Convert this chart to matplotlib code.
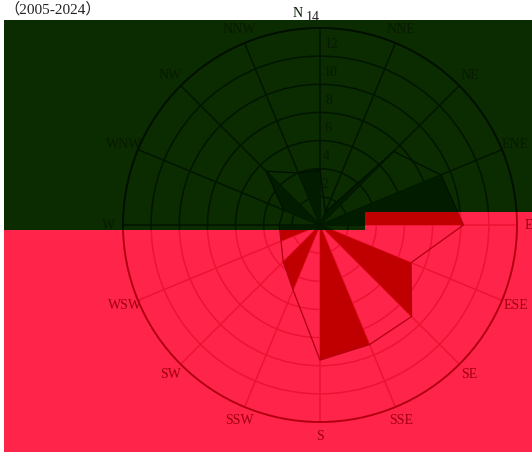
import numpy as np
import matplotlib
matplotlib.use('Agg')
import matplotlib.pyplot as plt
from matplotlib.patches import Polygon
from matplotlib.transforms import ScaledTranslation, offset_copy

plt.rcParams['font.family'] = ['Liberation Serif', 'Noto Sans CJK SC', 'DejaVu Sans']

directions = ['N', 'NNE', 'NE', 'ENE', 'E', 'ESE', 'SE', 'SSE',
              'S', 'SSW', 'SW', 'WSW', 'W', 'WNW', 'NW', 'NNW']
freq = [3.9, 1.0, 7.4, 9.3, 10.2, 7.0, 9.2, 9.2,
        9.6, 5.0, 3.7, 3.0, 2.9, 2.8, 5.4, 4.0]
# wedges (pairs of neighbouring directions) that are shaded
shaded_pairs = [(15, 0), (1, 2), (3, 4), (5, 6), (7, 8), (9, 10), (11, 12), (13, 14)]
r_ticks = [2, 4, 6, 8, 10, 12, 14]
period = '（2005-2024）'

W, H = 532, 457
fig = plt.figure(figsize=(W / 100, H / 100), dpi=100)
fig.patch.set_facecolor('white')

green_bg, green_dark, green_grid = '#0b2b00', '#021c00', '#011500'
red_bg, red_dark, red_grid = '#ff2449', '#c00000', '#ee1234'


def px(x, y):
    return (x / W, 1 - y / H)


# top (green) and bottom (red) regions of the picture
top_pts = [px(0, 0), px(W, 0), px(W, 212), px(365, 212), px(365, 230), px(0, 230)]
bot_pts = [px(0, 230), px(365, 230), px(365, 212), px(W, 212), px(W, H), px(0, H)]
fig.patches.append(Polygon([px(4, 20), px(W, 20), px(W, 212), px(365, 212), px(365, 230), px(4, 230)],
                           closed=True, transform=fig.transFigure, facecolor=green_bg,
                           edgecolor='none', zorder=-10))
fig.patches.append(Polygon([px(4, 230), px(365, 230), px(365, 212), px(W, 212), px(W, 452), px(4, 452)],
                           closed=True, transform=fig.transFigure, facecolor=red_bg,
                           edgecolor='none', zorder=-10))

theta = np.deg2rad(np.arange(16) * 22.5)
cx, cy, rad = 320, 225, 197
rect = [(cx - rad) / W, (H - cy - rad) / H, 2 * rad / W, 2 * rad / H]


def draw_rose(ax, dark, grid, edge, show_labels):
    ax.set_theta_zero_location('N')
    ax.set_theta_direction(-1)
    ax.set_facecolor('none')
    for i, j in shaded_pairs:
        ax.fill([0, theta[i], theta[j], 0], [0, freq[i], freq[j], 0],
                color=dark, linewidth=0, zorder=2)
    ax.plot(list(theta) + [theta[0]], freq + [freq[0]], color=edge, linewidth=0.9, zorder=3)
    ax.set_ylim(0, 14)
    ax.set_yticks(r_ticks)
    ax.set_yticklabels([])
    ax.set_xticks(theta)
    ax.grid(True, color=grid, linewidth=1.1)
    ax.spines['polar'].set_color(edge)
    ax.spines['polar'].set_linewidth(1.3)
    ax.tick_params(axis='x', pad=0, labelsize=10)
    if show_labels:
        ax.set_xticklabels(directions)
    else:
        ax.set_xticklabels([])


ax_top = fig.add_axes(rect, projection='polar', label='top')
ax_bot = fig.add_axes(rect, projection='polar', label='bottom')
draw_rose(ax_top, green_dark, green_grid, '#001000', True)
draw_rose(ax_bot, red_dark, red_grid, '#b00010', False)

for ax, pts in [(ax_top, top_pts), (ax_bot, bot_pts)]:
    clip = Polygon(pts, closed=True, transform=fig.transFigure)
    artists = ax.patches + ax.lines + ax.collections
    artists += ax.xaxis.get_gridlines() + ax.yaxis.get_gridlines()
    artists += [ax.spines['polar']]
    for a in artists:
        a.set_clip_path(clip)

# colour direction labels by the region they fall in
for lab, d in zip(ax_top.get_xticklabels(), directions):
    if d in ('ESE', 'SE', 'SSE', 'S', 'SSW', 'SW', 'WSW', 'E'):
        lab.set_color('#a0000f')
    else:
        lab.set_color('#071a00')
    if d == 'N':
        lab.set_transform(lab.get_transform() + ScaledTranslation(-0.22, 0, fig.dpi_scale_trans))
    if d == 'E':
        lab.set_transform(lab.get_transform() + ScaledTranslation(-0.03, 0, fig.dpi_scale_trans))

# radial labels sit a little above their rings
lab_tr = offset_copy(ax_top.transData, fig=fig, x=3, y=12, units='dots')
for t in r_ticks[:-1]:
    ax_top.text(np.deg2rad(3), t, str(t), transform=lab_tr, ha='center', va='center',
                fontsize=10, color='#071a00', zorder=5)
top_tr = offset_copy(ax_top.transData, fig=fig, x=-2, y=11, units='dots')
ax_top.text(np.deg2rad(-1.5), r_ticks[-1], str(r_ticks[-1]), transform=top_tr,
            ha='center', va='center', fontsize=10, color='#222222', zorder=5, clip_on=False)

fig.text(4 / W, 1 - 9 / H, period, fontsize=11, ha='left', va='center', color='#222222')

fig.savefig('out.png', dpi=100, facecolor=fig.get_facecolor())
